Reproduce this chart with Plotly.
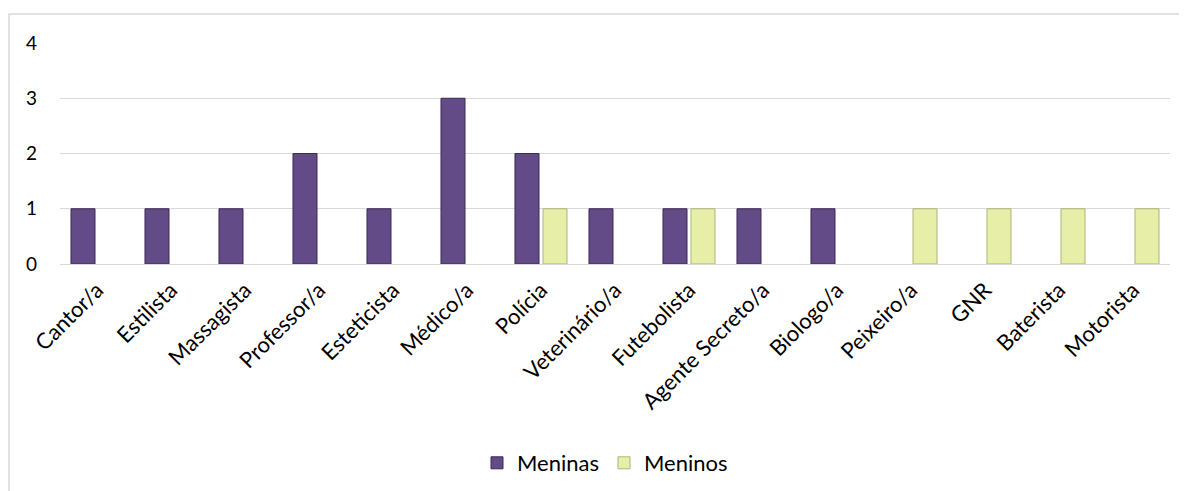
import plotly.graph_objects as go

categorias = ["Cantor/a", "Estilista", "Massagista", "Professor/a", "Esteticista",
              "Médico/a", "Polícia", "Veterinário/a", "Futebolista", "Agente Secreto/a",
              "Biologo/a", "Peixeiro/a", "GNR", "Baterista", "Motorista"]
meninas = [1, 1, 1, 2, 1, 3, 2, 1, 1, 1, 1, None, None, None, None]
meninos = [None, None, None, None, None, None, 1, None, 1, None, None, 1, 1, 1, 1]

FONT = "Lato, Calibri, 'Open Sans', sans-serif"

fig = go.Figure()
fig.add_trace(go.Bar(name="Meninas", x=categorias, y=meninas,
                     marker=dict(color="#624B87", line=dict(color="#3B2A55", width=1))))
fig.add_trace(go.Bar(name="Meninos", x=categorias, y=meninos,
                     marker=dict(color="#E7EEA8", line=dict(color="#AEB37A", width=1))))

# page body has an 8px margin: figure is drawn at (8, 8) in the page
OFF = 8
W, H = 1187 - OFF, 491 - OFF
L, T = 60 - OFF, 43 - OFF
R = 17
B = H - (264 - OFF)
pw, ph = W - L - R, H - T - B

fig.update_layout(
    width=W, height=H,
    margin=dict(l=L, r=R, t=T, b=B, autoexpand=False),
    paper_bgcolor="white", plot_bgcolor="white",
    barmode="group", bargap=0.243, bargroupgap=0.143,
    font=dict(family=FONT, size=22, color="#000000"),
    legend=dict(orientation="h", x=(605 - 60) / pw, xanchor="center",
                y=(264 - 463) / ph, yanchor="middle",
                font=dict(size=22), itemwidth=30, traceorder="normal"),
    showlegend=True,
)
fig.update_xaxes(tickangle=-45, showgrid=False, showline=False, ticks="",
                 tickfont=dict(size=22), automargin=False, ticklabelstandoff=8)
fig.update_yaxes(range=[0, 4], dtick=1, showgrid=True, gridcolor="#D9D9D9",
                 gridwidth=1, zeroline=True, zerolinecolor="#D9D9D9", zerolinewidth=1,
                 showline=False, ticks="", ticklabelstandoff=22,
                 tickfont=dict(size=19), automargin=False)

# chart border (left and top visible)
fig.add_shape(type="rect", xref="paper", yref="paper",
              x0=(1 - L) / pw, x1=(W + 20 - L) / pw,
              y0=-(H + 20 - (264 - OFF)) / ph, y1=((264 - OFF) - 6) / ph,
              line=dict(color="#D9D9D9", width=1.5), fillcolor="rgba(0,0,0,0)",
              layer="below")

fig.write_html("out.html")
